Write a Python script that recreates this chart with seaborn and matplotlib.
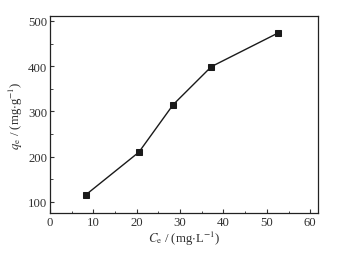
import matplotlib
matplotlib.use("Agg")
import matplotlib.pyplot as plt
import seaborn as sns
from matplotlib.ticker import MultipleLocator

ce = [8.3, 20.5, 28.4, 37.2, 52.5]
qe = [116, 210, 315, 399, 473]

sns.set_style("ticks")
plt.rcParams["font.family"] = ["Liberation Serif", "DejaVu Serif"]
plt.rcParams["mathtext.fontset"] = "stix"

fig = plt.figure(figsize=(3.41, 2.55), dpi=100)
ax = fig.add_axes([50 / 341, 41 / 255, 268 / 341, 197 / 255])

sns.lineplot(x=ce, y=qe, ax=ax, color="#1a1a1a", linewidth=1.0,
             marker="s", markersize=5, markeredgecolor="#1a1a1a")

ax.set_xlim(0, 61.8)
ax.set_ylim(75.5, 511)
ax.xaxis.set_major_locator(MultipleLocator(10))
ax.xaxis.set_minor_locator(MultipleLocator(5))
ax.yaxis.set_major_locator(MultipleLocator(100))
ax.yaxis.set_minor_locator(MultipleLocator(50))
ax.tick_params(which="major", direction="in", length=3, width=0.8,
               labelsize=9.2, colors="#333333", pad=2)
ax.tick_params(which="minor", direction="in", length=1.8, width=0.6)
for s in ax.spines.values():
    s.set_linewidth(0.9)
    s.set_color("#222222")

ax.set_xlabel(r"$C_\mathrm{e}$ / (mg$\cdot$L$^{-1}$)", fontsize=9.2,
              labelpad=1, color="#333333")
ax.set_ylabel(r"$q_\mathrm{e}$ / (mg$\cdot$g$^{-1}$)", fontsize=9.2,
              labelpad=2, color="#333333")

fig.savefig("out.png", dpi=100)
